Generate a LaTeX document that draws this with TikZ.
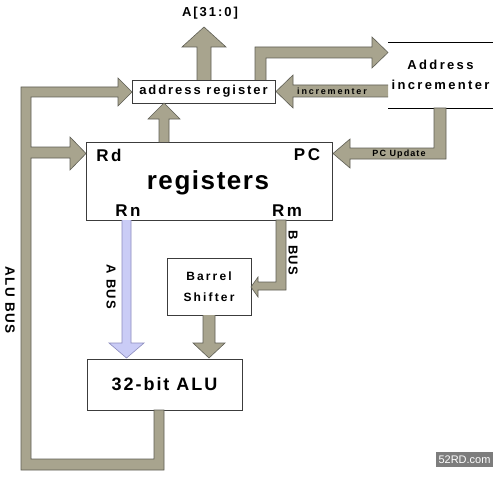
\documentclass[tikz,border=0pt]{standalone}
\usepackage{fontspec}
\setmainfont{Liberation Sans}
\usetikzlibrary{calc}
\newcommand\myft[3]{\fontsize{#1}{#2}\selectfont\bfseries\addfontfeatures{LetterSpace=#3}}
\definecolor{tanc}{RGB}{168,164,142}
\definecolor{tanedge}{RGB}{95,95,85}
\definecolor{abus}{RGB}{202,204,246}
\definecolor{abusedge}{RGB}{140,140,190}
\definecolor{boxedge}{RGB}{60,60,60}
\definecolor{wmgray}{RGB}{125,125,125}
\tikzset{
  box/.style={draw=boxedge, line width=0.8pt, fill=white, inner sep=0pt, outer sep=0pt},
  lbl/.style={inner sep=0pt, outer sep=0pt, text=black},
  barrow/.style={fill=tanc, draw=tanedge, line width=0.6pt, line join=miter},
  aarrow/.style={fill=abus, draw=abusedge, line width=0.6pt, line join=miter},
  boxline/.style={draw=black, line width=0.8pt}
}
\begin{document}
\begin{tikzpicture}[x=1pt,y=-1pt]
\path[use as bounding box, fill=white] (0,0) rectangle (500,476);

% ---- boxes ----
\node[box, minimum width=143pt, minimum height=23pt, font=\myft{13}{15}{15}] (areg) at (203.5,91.5) {address register};
\node[box, minimum width=246pt, minimum height=78pt] (regs) at (209,181) {};
\node[lbl, font=\myft{26}{30}{6}] (regtxt) at (208,183) {registers};
\node[lbl, font=\myft{17}{20}{15}] (rd) at (109,155) {Rd};
\node[lbl, font=\myft{17}{20}{15}] (pc) at (307,155) {PC};
\node[lbl, font=\myft{17}{20}{15}] (rn) at (128,211) {Rn};
\node[lbl, font=\myft{17}{20}{15}] (rm) at (287,211) {Rm};
\node[box, minimum width=155pt, minimum height=51pt, font=\myft{18}{21}{11}] (alu) at (164.5,384.5) {32-bit ALU};
\node[box, minimum width=84pt, minimum height=57pt, align=center, font=\myft{12}{21}{18}] (barrel) at (209,286.5) {Barrel\\Shifter};
\node[lbl, minimum width=105pt, minimum height=66pt, align=center, font=\myft{13}{20}{18}] (inc) at (440.5,75) {Address\\incrementer};
\draw[boxline] (inc.north west) -- (inc.north east);
\draw[boxline] (inc.south west) -- (inc.south east);

% ---- A[31:0] output ----
\draw[barrow] (197,80) -- (197,47) -- (182,47) -- (204,27) -- (226,47) -- (211,47) -- (211,80);
\node[lbl, font=\myft{13}{15}{15}] (aout) at (210,13) {A[31:0]};

% ---- registers -> address register ----
\draw[barrow] (159,142) -- (159,119) -- (148,119) -- (164,103) -- (180,119) -- (169,119) -- (169,142);

% ---- ALU bus ----
\draw[barrow] (21,470) -- (164,470) -- (164,410) -- (154,410) -- (154,459) -- (31,459)
  -- (31,158) -- (70,158) -- (70,170) -- (86,153.5) -- (70,137) -- (70,147) -- (31,147)
  -- (31,97) -- (118,97) -- (118,106) -- (132,92) -- (118,78) -- (118,87) -- (21,87) -- cycle;
\node[lbl, rotate=-90, font=\myft{13.5}{15}{10}] (alubus) at (10,300) {ALU BUS};

% ---- address register -> address incrementer ----
\draw[barrow] (255,80) -- (255,47) -- (372,47) -- (372,37) -- (388,52.5) -- (372,68) -- (372,58) -- (266,58) -- (266,80);

% ---- incrementer -> address register ----
\draw[barrow] (388,85) -- (293,85) -- (293,75) -- (276,91.5) -- (293,108) -- (293,97) -- (388,97);
\node[lbl, font=\myft{9}{10}{20}] (inclbl) at (332,91) {incrementer};

% ---- PC update ----
\draw[barrow] (434,108) -- (446,108) -- (446,159) -- (350,159) -- (350,168) -- (333,153.5) -- (350,139) -- (350,148) -- (434,148) -- cycle;
\node[lbl, font=\myft{9}{10}{12}] (pclbl) at (399,154) {PC Update};

% ---- A bus ----
\draw[aarrow] (122,220) -- (122,343) -- (109,343) -- (126.5,358) -- (144,343) -- (131,343) -- (131,220);
\node[lbl, rotate=-90, font=\myft{13}{15}{10}] (abuslbl) at (111,287) {A BUS};

% ---- B bus ----
\draw[barrow] (276,220) -- (286,220) -- (286,290) -- (258,290) -- (258,297) -- (251,287) -- (258,277) -- (258,282) -- (276,282) -- cycle;
\node[lbl, rotate=-90, font=\myft{13}{15}{10}] (bbuslbl) at (293,253) {B BUS};

% ---- barrel shifter -> ALU ----
\draw[barrow] (203,315) -- (203,343) -- (193,343) -- (209,358) -- (225,343) -- (215,343) -- (215,315);

% ---- watermark ----
\node[fill=wmgray, text=white, minimum width=57pt, minimum height=15pt, inner sep=0pt, font=\fontsize{11}{12}\selectfont] (wm) at (464.5,459.5) {52RD.com};
\end{tikzpicture}
\end{document}
